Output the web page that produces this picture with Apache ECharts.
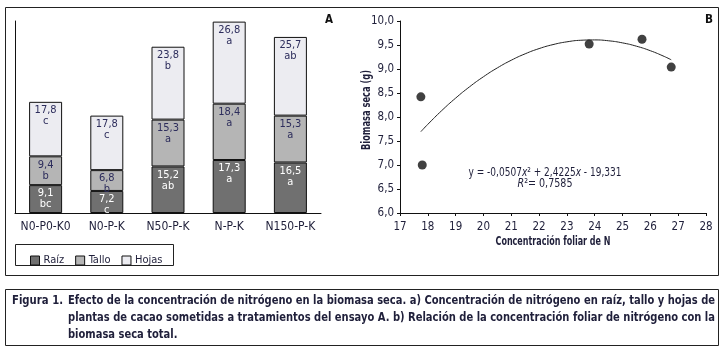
<!DOCTYPE html>
<html>
<head>
<meta charset="utf-8">
<script src="https://cdn.jsdelivr.net/npm/echarts@6/dist/echarts.min.js"></script>
<style>
  html, body { margin: 0; padding: 0; background: #fff; }
  #chart { width: 728px; height: 351px; }
</style>
</head>
<body>
<div id="chart"></div>
<script>
const FONT = '"DejaVu Sans Condensed", "Liberation Sans", sans-serif'
const TXT = '#1f1f3a'

// panel A
const tratamientos = ['N0-P0-K0', 'N0-P-K', 'N50-P-K', 'N-P-K', 'N150-P-K']
const raiz = [9.1, 7.2, 15.2, 17.3, 16.5]
const raizLetra = ['bc', 'c', 'ab', 'a', 'a']
const tallo = [9.4, 6.8, 15.3, 18.4, 15.3]
const talloLetra = ['b', 'b', 'a', 'a', 'a']
const hojas = [17.8, 17.8, 23.8, 26.8, 25.7]
const hojasLetra = ['c', 'c', 'b', 'a', 'ab']

// panel B
const puntosN = [17.75, 17.8, 23.8, 25.7, 26.75]
const puntosBiomasa = [8.42, 7.0, 9.52, 9.62, 9.04]
// coeficientes de la ecuacion impresa en la figura
const coef = [-0.0507, 2.4225, -19.331]
const curvaX = [17.75, 18, 18.5, 19, 19.5, 20, 20.5, 21, 21.5, 22, 22.5, 23, 23.5,
  24, 24.5, 25, 25.5, 26, 26.5, 26.75]

const coma = v => String(v).replace('.', ',')
const curva = curvaX.map(x => [x, coef[0] * x * x + coef[1] * x + coef[2]])

// texto estrecho: se escala en x para que ocupe el ancho del original
const ctx = document.createElement('canvas').getContext('2d')
function estrecho(text, font, x, y, width, extra) {
  ctx.font = font
  const plain = text.replace(/\{\w+\|([^}]*)\}/g, '$1')
  const s = width / ctx.measureText(plain).width
  return Object.assign({
    type: 'text', x: x, y: y, scaleX: s,
    style: Object.assign({ text: text, font: font, fill: '#111', verticalAlign: 'middle' },
      extra && extra.style),
  }, extra && extra.el)
}

const chart = echarts.init(document.getElementById('chart'))

const segLabel = (letras, color) => ({
  show: true,
  position: 'insideTop',
  distance: 3,
  color: color,
  fontFamily: FONT,
  fontSize: 11,
  lineHeight: 11,
  formatter: p => coma(p.value) + '\n' + letras[p.dataIndex],
})

const captionFont = 'bold 13px ' + FONT
const linea1 = 'Efecto de la concentración de nitrógeno en la biomasa seca. a) Concentración de nitrógeno en raíz, tallo y hojas de'
const linea2 = 'plantas de cacao sometidas a tratamientos del ensayo A. b) Relación de la concentración foliar de nitrógeno con la'
const linea3 = 'biomasa seca total.'
ctx.font = captionFont
const escalaPie = 647 / ctx.measureText(linea1).width

const eqRich = { i: { fontStyle: 'italic', fontFamily: FONT, fontSize: 13, fill: TXT } }

const option = {
  animation: false,
  textStyle: { fontFamily: FONT },
  grid: [
    { left: 15, top: 21, width: 306, height: 192 },
    { left: 400, top: 21, width: 306, height: 192 },
  ],
  legend: {
    left: 25, top: 250,
    icon: 'rect',
    itemWidth: 9, itemHeight: 9, itemGap: 11,
    textStyle: { fontFamily: FONT, fontSize: 11, color: TXT, padding: [0, 0, 0, -1] },
    itemStyle: { borderColor: '#111', borderWidth: 1 },
    data: ['Raíz', 'Tallo', 'Hojas'],
  },
  xAxis: [
    {
      gridIndex: 0, type: 'category', data: tratamientos,
      axisLine: { lineStyle: { color: '#111' } },
      axisTick: { show: false },
      axisLabel: { color: TXT, fontSize: 12, margin: 8, fontFamily: FONT, interval: 0 },
    },
    {
      gridIndex: 1, type: 'value', min: 17, max: 28, interval: 1,
      axisLine: { lineStyle: { color: '#111' } },
      axisTick: { show: true, length: 3, lineStyle: { color: '#111' } },
      axisLabel: { color: TXT, fontSize: 11.5, margin: 8, fontFamily: FONT },
      splitLine: { show: false },
    },
  ],
  yAxis: [
    {
      gridIndex: 0, type: 'value', min: 0, max: 62.7,
      axisLine: { show: true, lineStyle: { color: '#111' } },
      axisTick: { show: false }, axisLabel: { show: false },
      splitLine: { show: false },
    },
    {
      gridIndex: 1, type: 'value', min: 6, max: 10, interval: 0.5,
      axisLine: { show: true, lineStyle: { color: '#111' } },
      axisTick: { show: true, length: 3, lineStyle: { color: '#111' } },
      axisLabel: { color: TXT, fontSize: 11.5, margin: 6, fontFamily: FONT,
        formatter: v => v.toFixed(1).replace('.', ',') },
      splitLine: { show: false },
    },
  ],
  series: [
    {
      name: 'Raíz', type: 'bar', stack: 'n', data: raiz, barWidth: 33,
      itemStyle: { color: '#707070', borderColor: '#111', borderWidth: 1 },
      label: segLabel(raizLetra, '#fff'),
    },
    {
      name: 'Tallo', type: 'bar', stack: 'n', data: tallo, barWidth: 33,
      itemStyle: { color: '#b5b5b5', borderColor: '#111', borderWidth: 1 },
      label: segLabel(talloLetra, '#2d2d5c'),
    },
    {
      name: 'Hojas', type: 'bar', stack: 'n', data: hojas, barWidth: 33,
      itemStyle: { color: '#ececf1', borderColor: '#111', borderWidth: 1 },
      label: segLabel(hojasLetra, '#2d2d5c'),
    },
    {
      type: 'line', xAxisIndex: 1, yAxisIndex: 1, data: curva,
      smooth: true, showSymbol: false, silent: true,
      lineStyle: { color: '#222', width: 1 },
    },
    {
      type: 'scatter', xAxisIndex: 1, yAxisIndex: 1,
      data: puntosN.map((x, i) => [x, puntosBiomasa[i]]),
      symbolSize: 9, itemStyle: { color: '#111' },
    },
  ],
  graphic: [
    // marco de los paneles
    { type: 'rect', shape: { x: 5.5, y: 7.5, width: 713, height: 268 },
      style: { fill: 'none', stroke: '#222', lineWidth: 1 } },
    // marco de la leyenda
    { type: 'rect', shape: { x: 15.5, y: 244.5, width: 158, height: 21 },
      style: { fill: 'none', stroke: '#222', lineWidth: 1 } },
    estrecho('A', 'bold 13px ' + FONT, 325, 20, 8),
    estrecho('B', 'bold 13px ' + FONT, 705, 20, 8),
    // nombres de ejes
    estrecho('Concentración foliar de N', 'bold 13px ' + FONT, 553, 242, 115,
      { style: { align: 'center', fill: TXT } }),
    estrecho('Biomasa seca (g)', 'bold 13px ' + FONT, 367, 110, 80,
      { style: { align: 'center', fill: TXT }, el: { rotation: Math.PI / 2 } }),
    // ecuacion
    estrecho('y = -0,0507{i|x}² + 2,4225{i|x} - 19,331', '13px ' + FONT, 545, 173, 153,
      { style: { align: 'center', fill: TXT, rich: eqRich } }),
    estrecho('{i|R}²= 0,7585', '13px ' + FONT, 545, 184, 55,
      { style: { align: 'center', fill: TXT, rich: eqRich } }),
    // pie de figura
    { type: 'rect', shape: { x: 5.5, y: 289.5, width: 713, height: 56 },
      style: { fill: 'none', stroke: '#222', lineWidth: 1 } },
    estrecho('Figura 1.', captionFont, 12, 301, 51, { style: { fill: TXT } }),
    estrecho(linea1, captionFont, 68, 301, 647, { style: { fill: TXT } }),
    estrecho(linea2, captionFont, 68, 318, 647, { style: { fill: TXT } }),
    { type: 'text', x: 68, y: 335, scaleX: escalaPie,
      style: { text: linea3, font: captionFont, fill: TXT, verticalAlign: 'middle' } },
  ],
}

chart.setOption(option)
</script>
</body>
</html>
